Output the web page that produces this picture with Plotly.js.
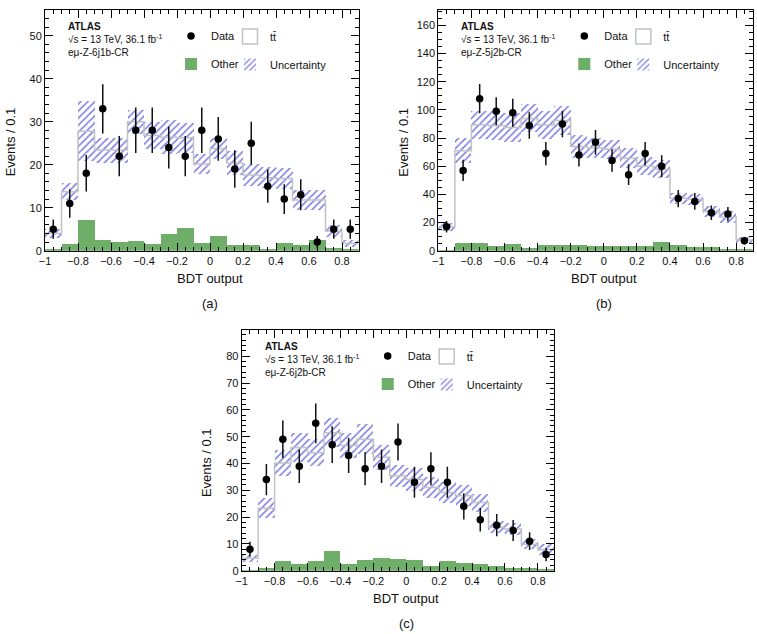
<!DOCTYPE html>
<html>
<head>
<meta charset="utf-8">
<script src="https://cdn.plot.ly/plotly-3.0.1.min.js"></script>
<style>
  html, body { margin: 0; padding: 0; background: #fff; }
  #chart { width: 757px; height: 634px; }
</style>
</head>
<body>
<div id="chart"></div>
<script>
// BDT output binning: 19 bins of width 0.1 from -1 to 0.9
const binEdges = [-1.0, -0.9, -0.8, -0.7, -0.6, -0.5, -0.4, -0.3, -0.2, -0.1,
                  0.0, 0.1, 0.2, 0.3, 0.4, 0.5, 0.6, 0.7, 0.8, 0.9];

// (a) eμ-Z-6j1b-CR
const dataA  = [5, 11, 18, 33, 22, 28, 28, 24, 22, 28, 26, 19, 25, 15, 12, 13, 2, 5, 5];
const otherA = [0.5, 1.5, 7.1, 2.5, 2.0, 2.3, 1.5, 3.9, 5.2, 1.7, 3.5, 1.3, 1.3, 0.3, 1.9, 1.3, 2.5, 0.7, 0.5];
const ttbarA = [3.5, 12.2, 20.7, 20.9, 21.4, 27.7, 25.3, 22.5, 21.1, 18.5, 20.3, 19.1, 16.3, 16.7, 14.9, 10.5, 9.3, 3.9, 1.2];
const uncA   = [1.0, 2.0, 7.0, 2.9, 2.9, 2.8, 3.1, 3.9, 3.5, 2.4, 2.4, 2.9, 2.5, 2.4, 2.5, 2.3, 2.3, 1.4, 0.8];

// (b) eμ-Z-5j2b-CR
const dataB  = [17, 57, 108, 99, 98, 89, 69, 90, 68, 77, 64, 54, 69, 60, 37, 35, 27, 26, 7];
const otherB = [0.5, 5.2, 5.2, 3.6, 4.7, 2.1, 4.0, 4.0, 4.0, 3.6, 3.6, 3.3, 3.1, 5.9, 4.0, 2.6, 2.6, 0.9, 0.9];
const ttbarB = [16.5, 65.8, 84.3, 85.4, 82.8, 91.9, 85.3, 88.5, 70.0, 69.4, 68.4, 62.3, 56.9, 51.9, 33.3, 33.9, 25.4, 23.1, 6.7];
const uncB   = [2.8, 9.0, 10.0, 10.0, 10.0, 10.0, 10.0, 10.5, 8.0, 7.0, 7.0, 7.1, 6.5, 6.5, 3.8, 3.8, 3.8, 4.5, 2.4];

// (c) eμ-Z-6j2b-CR
const dataC  = [8, 34, 49, 39, 55, 47, 43, 38, 39, 48, 33, 38, 33, 24, 19, 17, 15, 11, 6];
const otherC = [0.3, 0.9, 3.7, 2.6, 3.7, 7.4, 2.4, 4.0, 4.6, 4.4, 4.0, 1.9, 3.6, 3.0, 2.4, 1.9, 0.9, 0.9, 0.7];
const ttbarC = [4.3, 22.4, 36.5, 43.4, 40.3, 44.1, 44.3, 45.0, 37.7, 31.0, 30.0, 29.1, 25.6, 25.0, 23.0, 14.3, 14.7, 9.0, 7.1];
const uncC   = [1.3, 3.7, 5.0, 5.5, 5.0, 5.3, 4.7, 5.6, 4.7, 4.0, 4.2, 4.0, 4.0, 4.0, 3.4, 2.2, 2.3, 1.8, 2.0];

const xTickVals = [-1, -0.8, -0.6, -0.4, -0.2, 0, 0.2, 0.4, 0.6, 0.8];

const W = 757, H = 634;
const FONT = 'Liberation Sans, Arial, Helvetica, sans-serif';
const TXT = '#111';
const GREEN = '#6eae69';
const HATCH = '#7a7ae6';
const TTLINE = '#c2c2c2';

// plot frames in pixels: [left, top, right, bottom]
const panels = [
  { data: dataA, other: otherA, ttbar: ttbarA, unc: uncA, region: 'eμ-Z-6j1b-CR',
    frame: [45, 10, 358.5, 250.7], yMax: 56, dtick: 10, minor: 2, label: '(a)' },
  { data: dataB, other: otherB, ttbar: ttbarB, unc: uncB, region: 'eμ-Z-5j2b-CR',
    frame: [438.3, 10, 752.7, 250.7], yMax: 171, dtick: 20, minor: 5, label: '(b)' },
  { data: dataC, other: otherC, ttbar: ttbarC, unc: uncC, region: 'eμ-Z-6j2b-CR',
    frame: [241.7, 330, 554.3, 570.7], yMax: 89.8, dtick: 10, minor: 2, label: '(c)' }
];

const centers = binEdges.slice(0, -1).map((e, i) => (e + binEdges[i + 1]) / 2);
const px = v => v / W;
const py = v => 1 - v / H;

const traces = [];
const layout = {
  width: W, height: H,
  margin: { l: 0, r: 0, t: 0, b: 0 },
  paper_bgcolor: '#fff', plot_bgcolor: '#fff',
  font: { family: FONT, color: TXT, size: 11 },
  barmode: 'overlay', bargap: 0,
  showlegend: true,
  annotations: []
};

panels.forEach((p, k) => {
  const sfx = k === 0 ? '' : String(k + 1);
  const xa = 'x' + sfx, ya = 'y' + sfx;
  const [L, T, R, B] = p.frame;
  const total = p.other.map((o, i) => o + p.ttbar[i]);
  const lg = n => { const idx = k * 4 + n; return idx === 1 ? 'legend' : 'legend' + idx; };

  // Other backgrounds
  traces.push({
    type: 'bar', x: centers, y: p.other, base: 0, xaxis: xa, yaxis: ya,
    name: 'Other', legend: lg(3),
    marker: { color: GREEN, line: { width: 0 } }, hoverinfo: 'skip'
  });
  // Uncertainty band on the total prediction
  traces.push({
    type: 'bar', x: centers, y: p.unc.map(u => 2 * u), base: total.map((t, i) => t - p.unc[i]),
    xaxis: xa, yaxis: ya, name: 'Uncertainty', legend: lg(4),
    marker: { color: 'rgba(0,0,0,0)', line: { width: 0 },
              pattern: { shape: '/', fgcolor: HATCH, bgcolor: 'rgba(0,0,0,0)', size: 5, solidity: 0.3 } },
    hoverinfo: 'skip'
  });
  // tt̄ stacked on top of Other: step outline of the total
  traces.push({
    type: 'scatter', mode: 'lines', x: binEdges, y: total.concat([total[total.length - 1]]),
    xaxis: xa, yaxis: ya, line: { shape: 'hv', color: TTLINE, width: 1.5 },
    showlegend: false, hoverinfo: 'skip'
  });
  // legend entry for tt̄
  traces.push({
    type: 'scatter', mode: 'markers', x: [null], y: [null], xaxis: xa, yaxis: ya,
    name: 'tt\u0304', legend: lg(2),
    marker: { symbol: 'square-open', size: 15, color: TTLINE, line: { width: 1.5 } }
  });
  // Data with Poisson errors
  traces.push({
    type: 'scatter', mode: 'markers', x: centers, y: p.data, xaxis: xa, yaxis: ya,
    name: 'Data', legend: lg(1),
    marker: { color: '#000', size: 7.5, symbol: 'circle' },
    error_y: { type: 'sqrt', color: '#111', thickness: 1.5, width: 0 }
  });

  const axCommon = {
    showline: true, linecolor: '#000', linewidth: 1, mirror: 'ticks',
    ticks: 'inside', ticklen: 8, tickcolor: '#000', tickwidth: 1,
    showgrid: false, zeroline: false, fixedrange: true,
    tickfont: { size: 11, family: FONT, color: TXT }
  };
  layout['xaxis' + sfx] = Object.assign({}, axCommon, {
    domain: [px(L), px(R)], anchor: ya, range: [-1, 0.9],
    tickvals: xTickVals,
    minor: { dtick: 0.05, tick0: -1, ticks: 'inside', ticklen: 4, tickcolor: '#000', showgrid: false }
  });
  layout['yaxis' + sfx] = Object.assign({}, axCommon, {
    domain: [py(B), py(T)], anchor: xa, range: [0, p.yMax],
    dtick: p.dtick, tick0: 0,
    minor: { dtick: p.minor, tick0: 0, ticks: 'inside', ticklen: 4, tickcolor: '#000', showgrid: false }
  });

  // axis titles
  layout.annotations.push({
    xref: 'paper', yref: 'paper', x: px((L + R) / 2 + 8.5), y: py(B + 27.5),
    xanchor: 'center', yanchor: 'middle', showarrow: false,
    text: 'BDT output', font: { size: 13, family: FONT, color: TXT }
  });
  layout.annotations.push({
    xref: 'paper', yref: 'paper', x: px(L - 35), y: py((T + B) / 2 + 12),
    xanchor: 'center', yanchor: 'middle', showarrow: false, textangle: -90,
    text: 'Events / 0.1', font: { size: 13, family: FONT, color: TXT }
  });

  // legends: Data / tt̄ on the first row, Other / Uncertainty on the second
  const legendSpots = [[152, 26], [211, 26.5], [152, 54], [211, 54.5]];
  legendSpots.forEach((s, n) => {
    const idx = k * 4 + n + 1;
    const key = idx === 1 ? 'legend' : 'legend' + idx;
    layout[key] = {
      x: px(L + s[0] - 26), y: py(T + s[1]), xanchor: 'left', yanchor: 'middle',
      bgcolor: 'rgba(0,0,0,0)', borderwidth: 0, itemwidth: 30,
      font: { size: 11, family: FONT, color: TXT }
    };
  });

  // ATLAS label block
  layout.annotations.push({
    xref: 'paper', yref: 'paper', x: px(L + 21), y: py(T + 9),
    xanchor: 'left', yanchor: 'top', align: 'left', showarrow: false,
    text: '<b>ATLAS</b><br>√s = 13 TeV, 36.1 fb<sup>-1</sup><br>' + p.region,
    font: { size: 10, family: FONT, color: TXT }
  });
  // sub-figure label
  layout.annotations.push({
    xref: 'paper', yref: 'paper', x: px((L + R) / 2 + 8.5), y: py(B + 53),
    xanchor: 'center', yanchor: 'middle', showarrow: false,
    text: p.label, font: { size: 13, family: FONT, color: TXT }
  });
});

Plotly.newPlot('chart', traces, layout, { displayModeBar: false, staticPlot: true });
</script>
</body>
</html>
